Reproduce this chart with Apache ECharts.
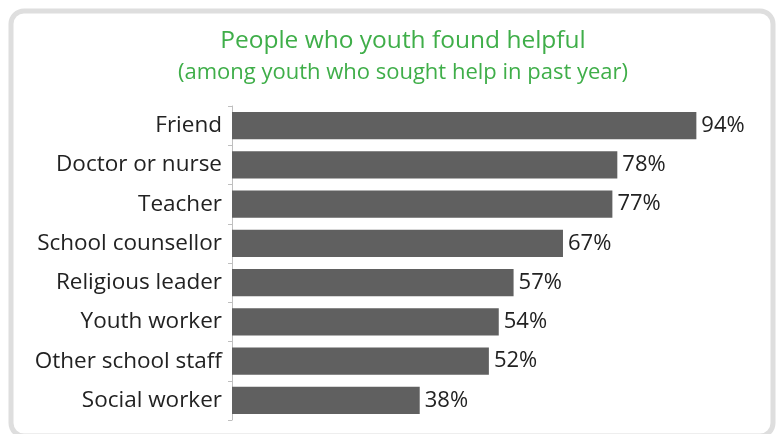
<!DOCTYPE html>
<html>
<head>
<meta charset="utf-8">
<script src="https://cdn.jsdelivr.net/npm/echarts@6/dist/echarts.min.js"></script>
<style>
  html, body { margin: 0; padding: 0; background: #fff; }
  #chart { width: 778px; height: 434px; }
</style>
</head>
<body>
<div id="chart"></div>
<script>
// categories top to bottom
const categories = ['Friend', 'Doctor or nurse', 'Teacher', 'School counsellor', 'Religious leader', 'Youth worker', 'Other school staff', 'Social worker']
const helpfulPct = [94, 78, 77, 67, 57, 54, 52, 38]
const titleText = 'People who youth found helpful'
const subtitleText = '(among youth who sought help in past year)'

const chart = echarts.init(document.getElementById('chart'), null, { renderer: 'canvas' })

const font = '"Open Sans", "Noto Sans", sans-serif'

const option = {
  animation: false,
  backgroundColor: '#fff',
  graphic: [
    {
      type: 'rect',
      shape: { x: 11, y: 11, width: 762, height: 425, r: 13 },
      style: { fill: 'none', stroke: '#dedede', lineWidth: 5 },
      silent: true
    }
  ],
  title: {
    text: titleText,
    subtext: subtitleText,
    left: 398,
    textAlign: 'center',
    top: 24,
    itemGap: 8,
    textStyle: { color: '#3fae49', fontSize: 24.5, fontWeight: 'normal', fontFamily: font },
    subtextStyle: { color: '#3fae49', fontSize: 22, fontFamily: font }
  },
  grid: { left: 232, right: 52, top: 106, bottom: 14, containLabel: false },
  xAxis: {
    type: 'value',
    min: 0,
    max: 100,
    show: false
  },
  yAxis: {
    type: 'category',
    data: categories,
    inverse: true,
    axisLine: { show: true, lineStyle: { color: '#bfbfbf', width: 1 } },
    axisTick: { show: true, length: 4, lineStyle: { color: '#bfbfbf' } },
    axisLabel: { color: '#222', fontSize: 22.5, fontFamily: font, margin: 10 },
    splitLine: { show: false }
  },
  series: [
    {
      type: 'bar',
      data: helpfulPct,
      barCategoryGap: '31%',
      itemStyle: { color: '#606060' },
      label: {
        show: true,
        position: 'right',
        distance: 5,
        formatter: '{c}%',
        color: '#222',
        fontSize: 22,
        fontFamily: font
      }
    }
  ]
}

chart.setOption(option)
</script>
</body>
</html>
